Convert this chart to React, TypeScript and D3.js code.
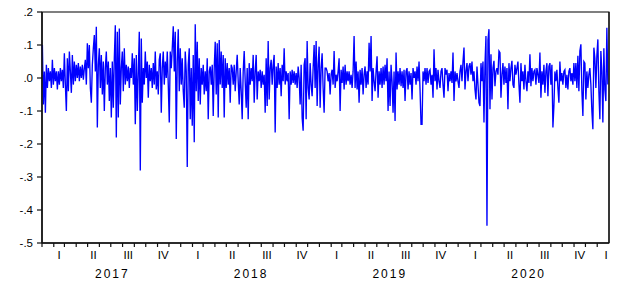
import React from "react";
import * as d3 from "d3";

// Daily returns, Jan 2017 – Jan 2021 (one value per trading-day cluster)
const returns2017a: number[] = [
  .10,-.08,.02,-.105,.04,-.03,.03,-.01,.02,-.03,.055,-.02,.03,-.01,.02,-.035,.02,-.02,.03,-.01,
  .025,-.03,.075,-.02,-.10,.06,-.04,.08,.02,-.045,.07,-.02,.05,-.01,.04,.00,.045,-.01,.035,.00,
  .04,-.005,.03,.055,-.02,.105,.03,.10,-.03,-.075,.04,.09,.13,.02,.155,-.15,.04,.09,-.03,.07,
  -.05,.05,-.10,.03,.08,-.02,.05,-.07,.03,-.12,.05,-.09,.06,.16,-.18,.14,-.12,.15,-.08,.03,
  .08,-.04,.09,-.02,.04,-.01,.035,-.03,.03,.00,.075,-.02,.06,-.14,.07,
];
const returns2017b: number[] = [
  -.10,.02,.14,-.28,.12,-.075,.03,-.02,.08,.00,.05,-.06,.04,-.01,.03,-.03,.045,-.02,.08,-.035,
  .02,-.05,.055,.075,-.105,.03,.08,-.02,.05,.00,.08,-.02,-.135,.08,.03,.09,.157,.02,.14,-.185,
  .05,.148,-.04,.09,-.02,.06,-.04,-.09,.08,.02,-.27,.04,.09,-.125,.03,-.145,.07,-.195,.163,-.04,
  .11,-.07,.06,-.08,.03,-.02,.04,-.05,.02,-.04,.06,-.125,.02,.035,-.02,.04,-.115,.03,.11,-.05,
  .105,-.12,.115,-.02,.08,-.03,.07,-.12,.06,-.03,.045,-.02,.03,-.075,.04,
];
const returns2018: number[] = [
  .03,-.02,.04,-.04,.02,.07,-.01,-.08,.03,-.04,-.125,.02,.082,-.01,-.09,.03,-.125,.045,-.02,.03,
  -.01,.07,-.075,.02,.07,-.065,.02,-.01,.025,-.03,.02,-.02,.01,-.105,.06,-.085,.112,-.065,.03,.055,
  -.02,.04,.07,-.165,.035,-.03,.045,-.02,.03,-.055,.04,-.01,.09,-.02,.02,-.01,.015,-.125,.02,-.02,
  .025,-.015,.02,-.02,.015,-.03,.035,.00,-.08,.04,-.12,-.16,.04,.06,-.125,.112,-.03,-.065,.045,-.02,
  -.055,.03,.10,-.03,.112,-.085,.04,.095,-.09,.03,.075,-.03,-.105,.03,.03,
];
const returns2019: number[] = [
  .02,-.01,.015,-.05,.01,.025,-.02,.082,-.03,.01,-.01,.02,.06,-.10,.025,-.015,.035,-.035,.04,-.02,
  .02,-.01,.02,-.02,.01,-.03,.02,.127,-.03,.05,-.035,.02,-.075,.025,-.02,.03,-.05,.01,.035,-.03,
  .02,-.02,.107,.02,.127,-.07,.03,-.01,-.04,.02,.066,-.06,.02,-.02,.03,-.03,.035,-.02,.04,-.01,
  .06,-.10,.02,-.085,.04,-.01,-.105,.02,-.13,.077,-.035,.02,-.02,.03,-.025,.02,-.03,.025,-.07,.02,
  .03,-.035,.02,-.02,.015,-.065,.03,.00,.02,-.02,.035,-.01,.05,-.035,-.14,
];
const returns2020a: number[] = [
  -.14,.02,-.01,.03,-.02,.03,-.015,.02,.025,-.02,.01,-.06,.087,-.01,.03,-.035,.025,-.01,-.03,.02,
  .03,-.02,-.06,.03,.01,.025,-.04,.015,-.01,.02,-.015,.077,-.07,.02,-.01,.015,-.01,-.03,.02,.04,
  -.01,.05,.092,-.035,.02,.045,-.01,.035,.045,.01,.05,-.01,.02,-.035,-.065,.035,-.02,-.075,-.085,.045,
  -.01,.05,-.135,.04,.127,-.448,.115,.148,-.095,.072,-.065,.03,.052,-.025,.02,.03,.01,.082,.077,-.06,
  .01,.045,-.02,.035,-.015,.03,-.095,.045,-.01,.03,.052,-.02,-.03,.04,.01,
];
const returns2020b: number[] = [
  .03,.05,-.02,-.075,.045,-.01,.02,-.035,.04,-.01,-.04,.02,-.015,.072,-.025,.03,-.01,.02,.025,-.02,
  .03,.01,-.015,.077,-.06,.02,-.02,.04,-.045,.02,.045,-.055,.035,.045,-.02,.04,-.15,-.085,.02,-.01,
  .025,-.03,-.075,.05,-.01,.015,-.02,.02,.025,-.03,.01,-.035,.02,.03,-.01,.015,-.02,.045,-.01,.045,
  -.03,.067,-.04,.082,.102,-.04,-.115,.05,.045,-.065,.02,-.03,.01,.03,-.02,-.10,-.155,.092,.06,-.03,
  .067,.117,-.04,-.125,.082,.02,-.135,.09,-.035,-.07,.152,-.02,
];

const seriesStart = new Date(2017, 0, 2);
const seriesEnd = new Date(2021, 0, 29);
const axisStart = new Date(2017, 0, 1);
const axisEnd = new Date(2021, 1, 1);

const yTicks = [0.2, 0.1, 0.0, -0.1, -0.2, -0.3, -0.4, -0.5];
const yTickLabels = [".2", ".1", ".0", "-.1", "-.2", "-.3", "-.4", "-.5"];
const quarterLabels = ["I", "II", "III", "IV"];
const years = [2017, 2018, 2019, 2020];

const W = 618, H = 285;
const L = 42, R = 609, T = 12, B = 243;
const FONT = "'Liberation Sans', Arial, sans-serif";

export default function App() {
  const values = [
    ...returns2017a, ...returns2017b, ...returns2018,
    ...returns2019, ...returns2020a, ...returns2020b,
  ];
  const n = values.length;
  const t0 = seriesStart.getTime(), t1 = seriesEnd.getTime();
  const data = values.map((v, i) => ({ d: new Date(t0 + (i * (t1 - t0)) / (n - 1)), v }));

  const x = d3.scaleTime().domain([axisStart, axisEnd]).range([L, R]);
  const y = d3.scaleLinear().domain([-0.5, 0.2]).range([B, T]);

  const line = d3.line<{ d: Date; v: number }>().x((p) => x(p.d)).y((p) => y(p.v));

  const months = d3.timeMonth.range(axisStart, axisEnd);
  const quarters = d3.timeMonth.every(3)!.range(axisStart, axisEnd);

  return (
    <svg width={W} height={H} style={{ position: "absolute", left: 0, top: 0, background: "#fff" }}>
      <rect x={L} y={T} width={R - L} height={B - T} fill="none" stroke="#000" strokeWidth={1} />
      <path d={line(data) || ""} fill="none" stroke="#0000FF" strokeWidth={1.35} strokeLinejoin="miter" />
      <line x1={L} x2={L} y1={T} y2={B} stroke="#111" strokeWidth={1.6} />
      <line x1={L} x2={R} y1={B} y2={B} stroke="#111" strokeWidth={1.6} />
      <line x1={R} x2={R} y1={T} y2={B} stroke="#111" strokeWidth={1.3} />
      {yTicks.map((t, i) => (
        <g key={i}>
          <line x1={L - 5} x2={L} y1={y(t)} y2={y(t)} stroke="#111" strokeWidth={1.2} />
          <text x={33} y={y(t) + 4} textAnchor="end" fontFamily={FONT} fontSize={11.5} fill="#000">
            {yTickLabels[i]}
          </text>
        </g>
      ))}
      {months.map((m, i) => (
        <line key={i} x1={x(m)} x2={x(m)} y1={B} y2={B + 4} stroke="#111" strokeWidth={1.2} />
      ))}
      {quarters.map((q, i) => {
        const qEnd = d3.timeMonth.offset(q, 3);
        const a = x(q), b = Math.min(x(qEnd), R);
        return (
          <text key={i} x={(a + b) / 2 + (b < x(qEnd) ? 3 : 0)} y={259} textAnchor="middle"
            fontFamily={FONT} fontSize={11.5} fill="#000">
            {quarterLabels[q.getMonth() / 3]}
          </text>
        );
      })}
      {years.map((yr) => {
        const a = x(new Date(yr, 0, 1)), b = x(new Date(yr + 1, 0, 1));
        return (
          <text key={yr} x={(a + b) / 2 + 1} y={278} textAnchor="middle" fontFamily={FONT}
            fontSize={12} letterSpacing={2} fill="#000">
            {yr}
          </text>
        );
      })}
    </svg>
  );
}
